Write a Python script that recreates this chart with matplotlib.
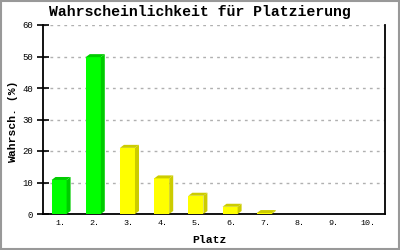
import numpy as np
import matplotlib
matplotlib.use("Agg")
import matplotlib.pyplot as plt
from matplotlib.patches import Polygon, Rectangle

# data
plaetze = ["1.", "2.", "3.", "4.", "5.", "6.", "7.", "8.", "9.", "10."]
werte = [10.8, 49.8, 21.0, 11.3, 5.8, 2.3, 0.3, 0.0, 0.0, 0.0]
farben_front = ["#00ff00", "#00ff00", "#ffff00", "#ffff00", "#ffff00",
                "#ffff00", "#ffff00", "#ffff00", "#ffff00", "#ffff00"]
farben_seite = ["#00cc00", "#00cc00", "#cccc00", "#cccc00", "#cccc00",
                "#cccc00", "#cccc00", "#cccc00", "#cccc00", "#cccc00"]

mono = "Liberation Mono"

fig = plt.figure(figsize=(4, 2.5), dpi=100)
ax = fig.add_axes([43/400, 36/250, 342/400, 189/250])

x = np.arange(len(plaetze))
breite = 0.44
dx = 0.117   # tiefe in x (daten)
dy = 0.95    # tiefe in y (daten)

ax.bar(x - 0.03, werte, width=breite, color=farben_front, zorder=3, linewidth=0)
for i, v in enumerate(werte):
    if v <= 0:
        continue
    l = x[i] - 0.03 - breite/2
    r = x[i] - 0.03 + breite/2
    seite = Polygon([(r, 0), (r + dx, dy), (r + dx, v + dy), (r, v)],
                    closed=True, color=farben_seite[i], lw=0, zorder=3)
    oben = Polygon([(l, v), (l + dx, v + dy), (r + dx, v + dy), (r, v)],
                   closed=True, color=farben_seite[i], lw=0, zorder=3)
    ax.add_patch(seite)
    ax.add_patch(oben)

ax.set_xlim(-0.5, 9.5)
ax.set_ylim(0, 60)
ax.set_yticks([0, 10, 20, 30, 40, 50, 60])
ax.set_xticks(x)
ax.set_xticklabels(plaetze, family=mono, fontsize=6)
for t in ax.get_yticklabels():
    t.set_family(mono)
    t.set_fontsize(6.5)
ax.tick_params(axis="y", direction="inout", length=8, width=1.2, pad=3)
ax.tick_params(axis="x", length=0, pad=4)
ax.yaxis.grid(True, linestyle=(0, (2, 3)), color="#b0b0b0", linewidth=1)
ax.set_axisbelow(True)

ax.spines["top"].set_visible(False)
for s in ["left", "bottom", "right"]:
    ax.spines[s].set_linewidth(1.3)

ax.set_xlabel("Platz", family=mono, fontweight="bold", fontsize=8.2)
ax.xaxis.set_label_coords(0.487, -0.112)
ax.set_ylabel("Wahrsch. (%)", family=mono, fontweight="bold", fontsize=8.2)
ax.yaxis.set_label_coords(-0.074, 0.49)

fig.text(0.5, 0.952, "Wahrscheinlichkeit für Platzierung", family=mono,
         fontweight="bold", fontsize=10.7, ha="center", va="center")

fig.patches.append(Rectangle((0.002, 0.003), 0.995, 0.993, transform=fig.transFigure,
                             fill=False, edgecolor="#999999", linewidth=1.5))

fig.savefig("out.png", dpi=100)
